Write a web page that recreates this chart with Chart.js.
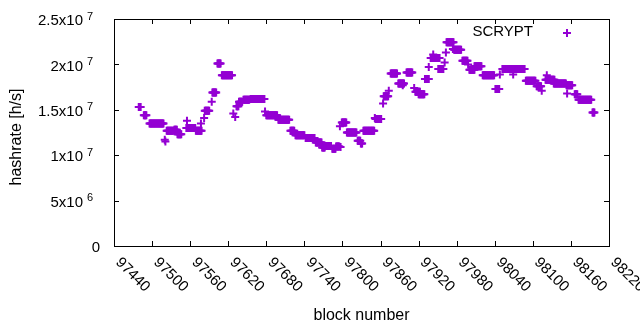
<!DOCTYPE html>
<html>
<head>
<meta charset="utf-8">
<script src="https://cdn.jsdelivr.net/npm/chart.js@4"></script>
<style>
  html, body { margin: 0; padding: 0; background: #fff; }
  canvas { display: block; }
</style>
</head>
<body>
<canvas id="hashrate" width="640" height="330"></canvas>
<script>
// runs of blocks sharing the same hashrate
const runStart = [97479, 97487, 97496, 97520, 97521, 97523, 97535, 97540, 97555, 97554, 97569, 97577, 97582, 97583,
  97594, 97595, 97603, 97610, 97628, 97631, 97633, 97637, 97644, 97655, 97678, 97680, 97699, 97718, 97726,
  97742, 97758, 97768, 97773, 97784, 97790, 97796, 97797, 97799, 97807, 97824, 97829, 97833, 97851, 97852,
  97864, 97865, 97873, 97876, 97888, 97895, 97901, 97913, 97915, 97920, 97930, 97936, 97939, 97943, 97951,
  97961, 97963, 97964, 97974, 97976, 97989, 97998, 98000, 98008, 98021, 98041, 98048, 98052, 98069, 98089,
  98106, 98114, 98122, 98120, 98133, 98153, 98154, 98166, 98172, 98194]
const runEnd = [97482, 97491, 97518, 97520, 97521, 97533, 97539, 97546, 97555, 97568, 97578, 97577, 97582, 97590,
  97594, 97601, 97608, 97626, 97628, 97631, 97636, 97642, 97653, 97677, 97678, 97697, 97716, 97724, 97740,
  97756, 97767, 97772, 97782, 97789, 97795, 97796, 97797, 97806, 97822, 97828, 97831, 97850, 97851, 97861,
  97864, 97872, 97873, 97886, 97897, 97895, 97910, 97913, 97922, 97929, 97936, 97936, 97953, 97943, 97959,
  97961, 97963, 97975, 97974, 97987, 97997, 97998, 98008, 98019, 98039, 98047, 98048, 98087, 98069, 98104,
  98113, 98114, 98122, 98134, 98152, 98162, 98154, 98170, 98192, 98197]
const runRate = [15.3e6, 14.4e6, 13.5e6, 11.7e6, 11.5e6, 12.7e6, 12.8e6, 12.3e6, 13.8e6, 13.0e6, 12.7e6, 13.5e6, 14.1e6, 14.9e6,
  15.9e6, 16.9e6, 20.1e6, 18.8e6, 14.6e6, 14.2e6, 15.4e6, 15.9e6, 16.1e6, 16.2e6, 14.8e6, 14.4e6, 13.9e6, 12.7e6, 12.2e6,
  11.9e6, 11.4e6, 10.85e6, 11.0e6, 10.7e6, 10.95e6, 13.2e6, 10.9e6, 13.6e6, 12.5e6, 11.6e6, 11.3e6, 12.7e6, 14.1e6, 14.0e6,
  15.7e6, 16.5e6, 17.1e6, 19.0e6, 17.9e6, 17.7e6, 19.1e6, 17.4e6, 17.0e6, 16.7e6, 18.4e6, 19.7e6, 20.7e6, 21.1e6, 19.5e6,
  20.2e6, 21.3e6, 22.45e6, 21.7e6, 21.6e6, 20.4e6, 20.0e6, 19.4e6, 19.8e6, 18.8e6, 17.3e6, 18.9e6, 19.5e6, 18.9e6, 18.2e6,
  17.6e6, 17.1e6, 18.8e6, 18.3e6, 17.9e6, 17.7e6, 16.8e6, 16.7e6, 16.1e6, 14.7e6]

const xMin = 97440, xMax = 98220, xStep = 60
const yMin = 0, yMax = 2.5e7, yStep = 5e6
const seriesName = 'SCRYPT'
const violet = '#9400d3'
const font = '"Liberation Sans", Arial, sans-serif'

let points = []
for (let i = 0; i < runStart.length; i++) {
    for (let b = runStart[i]; b <= runEnd[i]; b++) {
        points.push({x: b, y: runRate[i]})
    }
}

// box, inward ticks, labels -- drawn gnuplot style
const gnuplotFrame = {
    id: 'gnuplotFrame',
    afterDraw(chart) {
        const ctx = chart.ctx
        const a = chart.chartArea
        const xs = chart.scales.x
        const ys = chart.scales.y
        ctx.save()
        ctx.strokeStyle = '#000'
        ctx.lineWidth = 1
        ctx.strokeRect(a.left + 0.5, a.top + 0.5, a.right - a.left, a.bottom - a.top)
        ctx.beginPath()
        xs.ticks.forEach(t => {
            const px = Math.round(xs.getPixelForValue(t.value)) + 0.5
            ctx.moveTo(px, a.bottom); ctx.lineTo(px, a.bottom - 5)
            ctx.moveTo(px, a.top); ctx.lineTo(px, a.top + 5)
        })
        ys.ticks.forEach(t => {
            const py = Math.round(ys.getPixelForValue(t.value)) + 0.5
            ctx.moveTo(a.left, py); ctx.lineTo(a.left + 5, py)
            ctx.moveTo(a.right, py); ctx.lineTo(a.right - 5, py)
        })
        ctx.stroke()

        ctx.fillStyle = '#000'
        // y tick labels with raised exponent
        ys.ticks.forEach(t => {
            const py = ys.getPixelForValue(t.value)
            ctx.textBaseline = 'middle'
            if (t.value === 0) {
                ctx.font = '15px ' + font
                ctx.textAlign = 'right'
                ctx.fillText('0', a.left - 14, py + 1.5)
                return
            }
            const exp = Math.floor(Math.log10(t.value))
            const mant = Math.round(t.value / Math.pow(10, exp) * 10) / 10
            ctx.font = '15px ' + font
            ctx.textAlign = 'right'
            ctx.fillText(mant + 'x10', a.left - 31, py + 2)
            ctx.font = '11px ' + font
            ctx.textAlign = 'left'
            ctx.fillText(String(exp), a.left - 27, py - 2.5)
        })

        // x tick labels rotated down-right
        ctx.font = '15px ' + font
        ctx.textAlign = 'left'
        ctx.textBaseline = 'alphabetic'
        xs.ticks.forEach(t => {
            const px = xs.getPixelForValue(t.value)
            ctx.save()
            ctx.translate(px + 1, a.bottom + 17)
            ctx.rotate(Math.PI / 4)
            ctx.fillText(String(t.value), 0, 0)
            ctx.restore()
        })

        // axis titles
        ctx.font = '16px ' + font
        ctx.textAlign = 'center'
        ctx.textBaseline = 'middle'
        ctx.fillText('block number', (a.left + a.right) / 2, 316)
        ctx.save()
        ctx.translate(17, 137)
        ctx.rotate(-Math.PI / 2)
        ctx.fillText('hashrate [h/s]', 0, 0)
        ctx.restore()

        // key
        ctx.font = '15px ' + font
        ctx.textAlign = 'right'
        ctx.fillText(seriesName, 533, 32)
        ctx.strokeStyle = violet
        ctx.lineWidth = 2
        ctx.beginPath()
        ctx.moveTo(563, 33); ctx.lineTo(571, 33)
        ctx.moveTo(567, 29); ctx.lineTo(567, 37)
        ctx.stroke()
        ctx.restore()
    }
}

const chart = new Chart(document.getElementById('hashrate'), {
    type: 'scatter',
    data: {
        datasets: [{
            label: seriesName,
            data: points,
            pointStyle: 'cross',
            pointRadius: 4,
            pointBorderWidth: 2,
            borderColor: violet,
            backgroundColor: violet
        }]
    },
    options: {
        responsive: false,
        animation: false,
        devicePixelRatio: 1,
        layout: { padding: { left: 0, right: 31, top: 19, bottom: 0 } },
        scales: {
            x: {
                type: 'linear',
                min: xMin, max: xMax,
                ticks: { stepSize: xStep, display: false },
                grid: { display: false },
                border: { display: false },
                afterFit(scale) { scale.height = 84 }
            },
            y: {
                min: yMin, max: yMax,
                ticks: { stepSize: yStep, display: false },
                grid: { display: false },
                border: { display: false },
                afterFit(scale) { scale.width = 114 }
            }
        },
        plugins: {
            legend: { display: false },
            tooltip: { enabled: false }
        }
    },
    plugins: [gnuplotFrame]
})
</script>
</body>
</html>
